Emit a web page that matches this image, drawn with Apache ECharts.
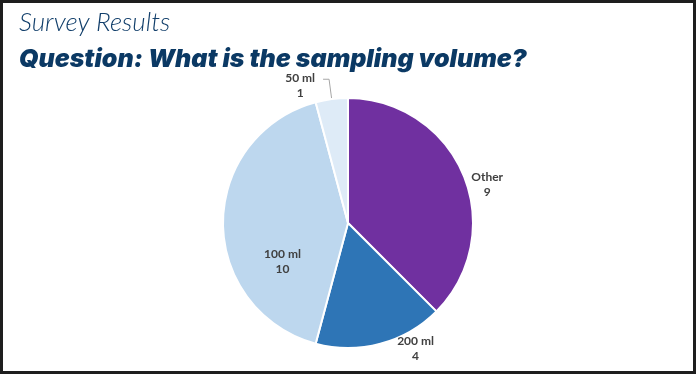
<!DOCTYPE html>
<html><head><meta charset="utf-8">
<script src="https://cdn.jsdelivr.net/npm/echarts@6/dist/echarts.min.js"></script>
<style>html,body{margin:0;padding:0;background:#fff}#c{width:700px;height:378px}</style>
</head><body><div id="c"></div>
<script>
const categories = ['Other', '200 ml', '100 ml', '50 ml'];
const values = [9, 4, 10, 1];
const colors = ['#7030A0', '#2E75B6', '#BDD7EE', '#DEEBF7'];
const titleText = 'Survey Results';
const questionText = 'Question: What is the sampling volume?';

const labelStyles = [
  { position: 'outside', offset: [-3, 11] },
  { position: 'outside', offset: [8, 2] },
  { position: 'inside', offset: [0, 39] },
  { position: 'outside', offset: [-3, 6] }
];
const lineShow = [false, false, false, true];

const chart = echarts.init(document.getElementById('c'), null, { renderer: 'canvas' });
chart.setOption({
  animation: false,
  title: [
    { text: titleText, left: 14, top: 5,
      textStyle: { fontFamily: 'Lato', fontStyle: 'italic', fontWeight: 300, fontSize: 26, color: '#123f6b' } },
    { text: questionText, left: 14, top: 42,
      textStyle: { fontFamily: 'Inter', fontStyle: 'italic', fontWeight: 900, fontSize: 25, color: '#0b3964' } }
  ],
  graphic: [{
    type: 'rect', silent: true,
    shape: { x: 1.5, y: 1.5, width: 693, height: 371 },
    style: { fill: 'none', stroke: '#1e1e1e', lineWidth: 3 }
  }],
  series: [{
    type: 'pie',
    center: [348, 223],
    radius: [0, 125],
    startAngle: 90,
    clockwise: true,
    avoidLabelOverlap: false,
    itemStyle: { borderColor: '#fff', borderWidth: 2 },
    label: {
      formatter: '{t|{b}}\n{t|{c}}',
      rich: { t: { fontFamily: 'Lato', fontWeight: 'bold', fontSize: 12, color: '#404040', lineHeight: 15, align: 'center' } }
    },
    labelLine: { length: 20, length2: 6, lineStyle: { color: '#A6A6A6', width: 1 } },
    data: categories.map((c, i) => ({
      name: c, value: values[i],
      itemStyle: { color: colors[i] },
      label: labelStyles[i],
      labelLine: { show: lineShow[i], length: lineShow[i] ? 20 : 3, length2: lineShow[i] ? 6 : 3 }
    }))
  }]
});
</script></body></html>
